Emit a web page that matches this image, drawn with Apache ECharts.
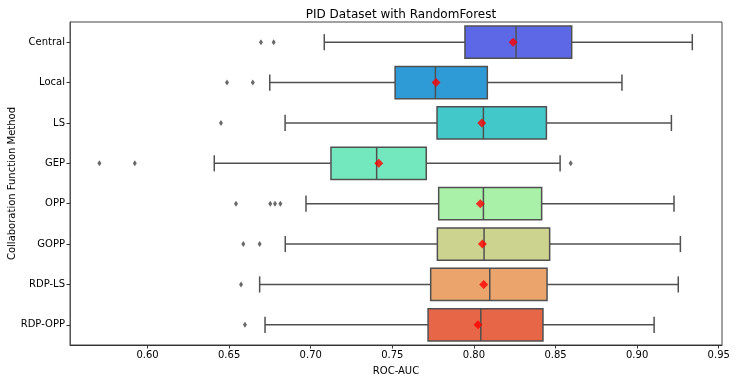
<html>
<head>
<meta http-equiv="Content-Type" content="text/html; charset=utf-8">
<title>PID Dataset with RandomForest</title>
<style>body{margin:0;background:#fff;}</style>
</head>
<body>
<div id="main" style="width:736px;height:382px;"></div>
<script type="text/javascript" src="https://cdn.jsdelivr.net/npm/echarts@6/dist/echarts.min.js"></script>
<script type="text/javascript">
var categories = ["Central", "Local", "LS", "GEP", "OPP", "GOPP", "RDP-LS", "RDP-OPP"];
var whiskerLow = [0.7083, 0.6749, 0.6843, 0.6409, 0.6971, 0.6844, 0.6687, 0.6720];
var q1 = [0.7945, 0.7517, 0.7774, 0.7124, 0.7784, 0.7776, 0.7735, 0.7719];
var medians = [0.8258, 0.7764, 0.8058, 0.7404, 0.8058, 0.8062, 0.8097, 0.8042];
var q3 = [0.8599, 0.8082, 0.8444, 0.7708, 0.8415, 0.8464, 0.8448, 0.8423];
var whiskerHigh = [0.9338, 0.8907, 0.9210, 0.8528, 0.9226, 0.9265, 0.9252, 0.9104];
var means = [0.8240, 0.7768, 0.8048, 0.7417, 0.8039, 0.8052, 0.8060, 0.8025];
var outliers = [
    [0.6695, 0.6773],
    [0.6487, 0.6645],
    [0.6450],
    [0.5705, 0.5922, 0.8593],
    [0.6542, 0.6752, 0.6781, 0.6814],
    [0.6587, 0.6687],
    [0.6573],
    [0.6597]
];
var xTicks = [0.60, 0.65, 0.70, 0.75, 0.80, 0.85, 0.90, 0.95];
var boxColors = ["#5c68e6", "#2e9bd6", "#42c8c8", "#73e8be", "#a9f0a8", "#ccd38f", "#eaa46c", "#e66647"];

var lineColor = "#505050";
var font = "DejaVu Sans";

var boxData = [];
var meanData = [];
var outlierData = [];
for (var i = 0; i < categories.length; i++) {
    boxData.push([i, whiskerLow[i], q1[i], medians[i], q3[i], whiskerHigh[i]]);
    meanData.push([means[i], i]);
    for (var j = 0; j < outliers[i].length; j++) {
        outlierData.push([outliers[i][j], i]);
    }
}

// box, whiskers and half-width caps, placed through the axes
function renderBox(params, api) {
    var c = api.value(0);
    var band = api.size([0, 1])[1];
    var h = band * 0.8;
    var y = api.coord([0, c])[1];
    var xLo = api.coord([api.value(1), c])[0];
    var xQ1 = api.coord([api.value(2), c])[0];
    var xMed = api.coord([api.value(3), c])[0];
    var xQ3 = api.coord([api.value(4), c])[0];
    var xHi = api.coord([api.value(5), c])[0];
    var st = {stroke: lineColor, lineWidth: 1.5, fill: null};
    return {
        type: "group",
        children: [
            {type: "line", shape: {x1: xLo, y1: y, x2: xQ1, y2: y}, style: st},
            {type: "line", shape: {x1: xQ3, y1: y, x2: xHi, y2: y}, style: st},
            {type: "line", shape: {x1: xLo, y1: y - h / 4, x2: xLo, y2: y + h / 4}, style: st},
            {type: "line", shape: {x1: xHi, y1: y - h / 4, x2: xHi, y2: y + h / 4}, style: st},
            {type: "rect", shape: {x: xQ1, y: y - h / 2, width: xQ3 - xQ1, height: h},
                style: {fill: boxColors[c], stroke: lineColor, lineWidth: 1.5}},
            {type: "line", shape: {x1: xMed, y1: y - h / 2, x2: xMed, y2: y + h / 2}, style: st}
        ]
    };
}

var myChart = echarts.init(document.getElementById("main"));

var option = {
    animation: false,
    backgroundColor: "#fff",
    textStyle: {fontFamily: font},
    title: {
        text: "PID Dataset with RandomForest",
        left: 396, top: 4, textAlign: "center",
        textStyle: {fontFamily: font, fontSize: 12, fontWeight: "normal", color: "#000"}
    },
    grid: {left: 70, right: 14, top: 22, bottom: 37, outerBoundsMode: "none", containLabel: false,
        show: true, borderColor: "#444", borderWidth: 1, backgroundColor: "transparent"},
    xAxis: {
        type: "value",
        min: 0.5525, max: 0.952,
        name: "ROC-AUC", nameLocation: "middle", nameGap: 21, nameMoveOverlap: false,
        nameTextStyle: {fontFamily: font, fontSize: 10, color: "#000"},
        axisLine: {show: true, onZero: false, lineStyle: {color: "#333", width: 1}},
        axisTick: {show: true, length: 3.5, customValues: xTicks, lineStyle: {color: "#333"}},
        axisLabel: {customValues: xTicks, margin: 5, fontFamily: font, fontSize: 10, color: "#000",
            formatter: function (v) { return v.toFixed(2); }},
        splitLine: {show: false}
    },
    yAxis: {
        type: "category",
        data: categories,
        inverse: true,
        name: "Collaboration Function Method", nameLocation: "middle", nameGap: 53, nameMoveOverlap: false,
        nameTextStyle: {fontFamily: font, fontSize: 10, color: "#000"},
        axisLine: {show: true, lineStyle: {color: "#555", width: 1}},
        axisTick: {show: true, alignWithLabel: true, length: 3.5, lineStyle: {color: "#333"}},
        axisLabel: {margin: 5, fontFamily: font, fontSize: 10, color: "#000"},
        splitLine: {show: false}
    },
    series: [
        {
            type: "custom",
            renderItem: renderBox,
            encode: {x: [1, 2, 3, 4, 5], y: 0},
            data: boxData,
            z: 2
        },
        {
            type: "scatter",
            data: outlierData,
            symbol: "diamond",
            symbolSize: [4, 6],
            itemStyle: {color: "#444"},
            z: 3
        },
        {
            type: "scatter",
            data: meanData,
            symbol: "diamond",
            symbolSize: [9, 9],
            itemStyle: {color: "#ff0000"},
            z: 4
        }
    ]
};
myChart.setOption(option);
</script>
</body>
</html>
